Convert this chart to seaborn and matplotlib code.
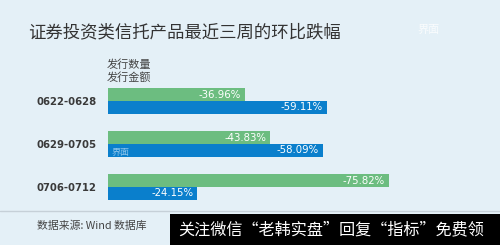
import matplotlib
matplotlib.use("Agg")
import matplotlib.pyplot as plt
import seaborn as sns
import pandas as pd

# Week-over-week change of securities-investment trust products
periods = ["0622-0628", "0629-0705", "0706-0712"]
metrics = ["发行数量", "发行金额"]
count_change = [-36.96, -43.83, -75.82]
amount_change = [-59.11, -58.09, -24.15]

title = "证券投资类信托产品最近三周的环比跌幅"
source = "数据来源: Wind 数据库"
banner = "关注微信“老韩实盘”回复“指标”免费领"

bg = "#e4f0f7"
green = "#6cbd80"
blue = "#0a7fcc"

sns.set_theme(style="white")
plt.rcParams["font.family"] = ["Noto Sans CJK SC", "DejaVu Sans"]

W, H = 500, 245
fig = plt.figure(figsize=(W / 100, H / 100), dpi=100, facecolor=bg)

def fx(px):
    return px / W

def fy(py):
    return 1 - py / H

df = pd.DataFrame({
    "period": periods * 2,
    "metric": [metrics[0]] * 3 + [metrics[1]] * 3,
    "change": count_change + amount_change,
})
df["size"] = df["change"].abs()

# Bar area: left edge at x=108px, 3.7px per percentage point
ax_left, ax_w = 108, 370
ax_top, ax_bot = 79.5, 208.5
ax = fig.add_axes([fx(ax_left), fy(ax_bot), fx(ax_w), (ax_bot - ax_top) / H])
ax.set_facecolor(bg)
sns.barplot(data=df, y="period", x="size", hue="metric", orient="h",
            palette=[green, blue], width=0.6, gap=0.06, legend=False,
            saturation=1, linewidth=0, ax=ax)
ax.set_xlim(0, ax_w / 3.7)
ax.set_ylim(2.5, -0.5)
for s in ax.spines.values():
    s.set_visible(False)
ax.set_xticks([])
ax.set_xlabel("")
ax.set_ylabel("")
ax.tick_params(axis="y", length=0, pad=8)
for lab in ax.get_yticklabels():
    lab.set_fontfamily("DejaVu Sans")
    lab.set_fontweight("bold")
    lab.set_fontsize(7.3)
    lab.set_color("#3a3a3a")

# Value labels inside the bar ends
series = [count_change, amount_change]
for cont, vals in zip(ax.containers, series):
    for patch, v in zip(cont.patches, vals):
        ax.annotate(f"{v:.2f}%", (patch.get_width(), patch.get_y() + patch.get_height() / 2),
                    xytext=(-3, 0), textcoords="offset points", ha="right", va="center",
                    color="white", fontsize=7.3, family="DejaVu Sans")

# Title
fig.text(fx(28), fy(32), title, fontsize=12.5, color="#333333", va="center", ha="left")
fig.text(fx(418), fy(30), "界面", fontsize=8, color="white", alpha=0.8, va="center", ha="left")

# Legend-like labels
fig.text(fx(107), fy(65), metrics[0], fontsize=8, color="#444444", va="center", ha="left")
fig.text(fx(107), fy(77.5), metrics[1], fontsize=8, color="#444444", va="center", ha="left")

# Watermark on the middle blue bar
fig.text(fx(112), fy(152), "界面", fontsize=6.5, color="#8cc4ea", va="center", ha="left")

# Footer rule and source
fig.add_artist(plt.Line2D([0, 1], [fy(211), fy(211)], color="#c6d0d8", lw=1))
fig.text(fx(37), fy(226), source, fontsize=7.8, color="#444444", va="center", ha="left")

# Black banner
fig.add_artist(plt.Rectangle((fx(170), 0), fx(330), fy(214), color="black", lw=0))
fig.text(fx(178), fy(230), banner, fontsize=11.6, color="white", va="center", ha="left")

fig.savefig("out.png", dpi=100, facecolor=bg)
